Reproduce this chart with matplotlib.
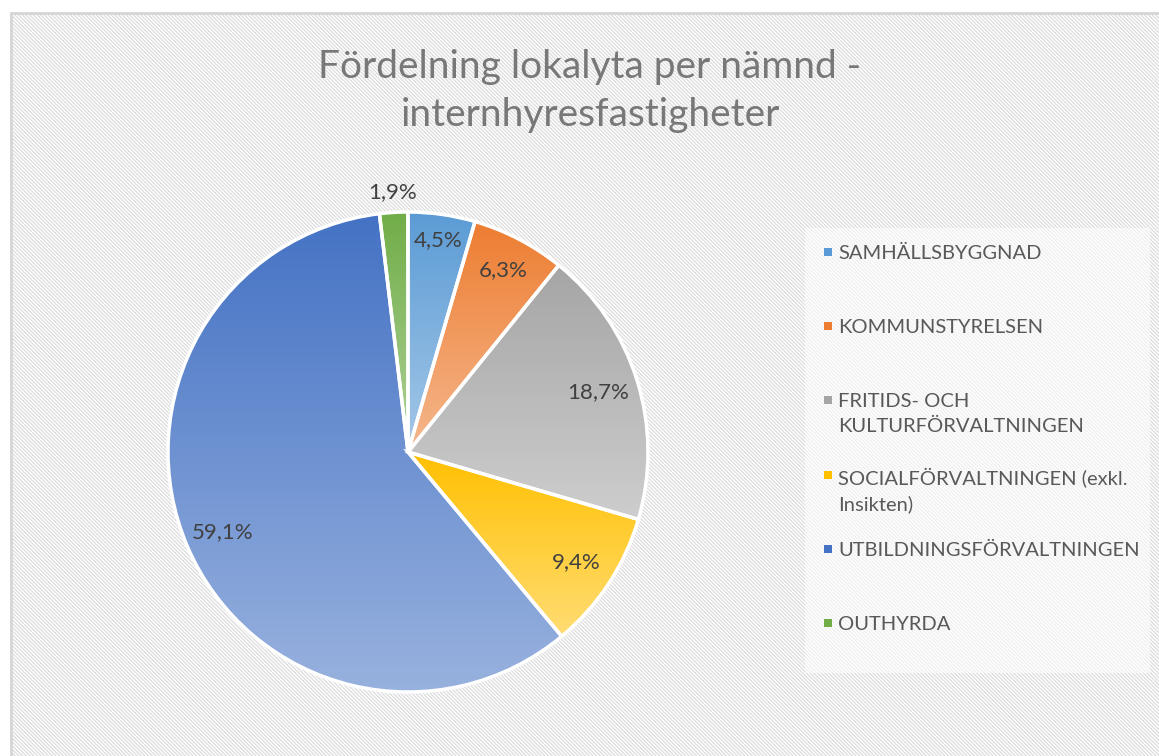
import matplotlib.pyplot as plt
import numpy as np
from matplotlib.colors import to_rgb
from matplotlib.patches import Rectangle

# data
labels = ["SAMHÄLLSBYGGNAD", "KOMMUNSTYRELSEN", "FRITIDS- OCH\nKULTURFÖRVALTNINGEN",
          "SOCIALFÖRVALTNINGEN (exkl.\nInsikten)", "UTBILDNINGSFÖRVALTNINGEN", "OUTHYRDA"]
shares = [4.5, 6.3, 18.7, 9.4, 59.1, 1.9]
pct_text = ["4,5%", "6,3%", "18,7%", "9,4%", "59,1%", "1,9%"]
colors = ["#5B9BD5", "#ED7D31", "#A5A5A5", "#FFC000", "#4472C4", "#70AD47"]
label_dist = [0.89, 0.855, 0.83, 0.84, 0.84, 1.085]

plt.rcParams["font.family"] = ["Lato", "DejaVu Sans"]
plt.rcParams["hatch.linewidth"] = 0.9
W, H = 1159, 756
fig = plt.figure(figsize=(W / 100, H / 100), dpi=100)
fig.patch.set_facecolor("white")

# hatched chart area with light border
bg = Rectangle((10 / W, 0), 1, 1 - 12 / H, transform=fig.transFigure,
               facecolor="white", edgecolor="#dcdcdc", linewidth=0,
               hatch="\\" * 9, zorder=-5)
border = Rectangle((11 / W, -0.01), 1, 1 - 13 / H + 0.01, transform=fig.transFigure,
                   facecolor="none", edgecolor="#d6d6d6", linewidth=2.0, zorder=-4)
fig.patches.extend([bg, border])

fig.text(590 / W, 1 - 91 / H, "Fördelning lokalyta per nämnd -\ninternhyresfastigheter",
         ha="center", va="center", fontsize=28, color="#787878", linespacing=1.42)

ax = fig.add_axes([168 / W, 1 - 692 / H, 480 / W, 480 / H])
wedges, _ = ax.pie(shares, colors=colors, startangle=90, counterclock=False,
                   wedgeprops=dict(edgecolor="white", linewidth=2.5))

# vertical gradient in each slice: base colour at top, lighter tint at bottom
for w, c in zip(wedges, colors):
    base = np.array(to_rgb(c))
    light = base + (1 - base) * 0.45
    t = np.linspace(0, 1, 256)[:, None]
    grad = (1 - t) * base + t * light
    grad = np.repeat(grad[:, None, :], 2, axis=1)
    bb = w.get_path().get_extents()
    im = ax.imshow(grad, extent=[bb.x0, bb.x1, bb.y0, bb.y1], origin="upper",
                   aspect="auto", zorder=w.get_zorder() - 0.1)
    im.set_clip_path(w)
    w.set_facecolor("none")
ax.set_xlim(-1, 1)
ax.set_ylim(-1, 1)
ax.set_aspect("equal")
ax.axis("off")

for w, txt, d in zip(wedges, pct_text, label_dist):
    ang = np.deg2rad((w.theta1 + w.theta2) / 2)
    ax.text(d * np.cos(ang), d * np.sin(ang), txt, ha="center", va="center",
            fontsize=16, color="#404040", clip_on=False)

# legend box: entries evenly spaced, marker on the first text line
fig.patches.append(Rectangle((805 / W, 1 - 673 / H), 345 / W, 445 / H,
                             transform=fig.transFigure, facecolor="white",
                             alpha=0.55, edgecolor="none", zorder=-3))
step = 74.2
for i, (lab, c) in enumerate(zip(labels, colors)):
    y = 252 + i * step
    fig.patches.append(Rectangle((824 / W, 1 - (y + 4) / H), 8 / W, 8 / H,
                                 transform=fig.transFigure, facecolor=c,
                                 edgecolor="none"))
    fig.text(838 / W, 1 - (y - 7) / H, lab, ha="left", va="top",
             fontsize=14.5, color="#595959", linespacing=1.5)

fig.savefig("out.png", dpi=100)
